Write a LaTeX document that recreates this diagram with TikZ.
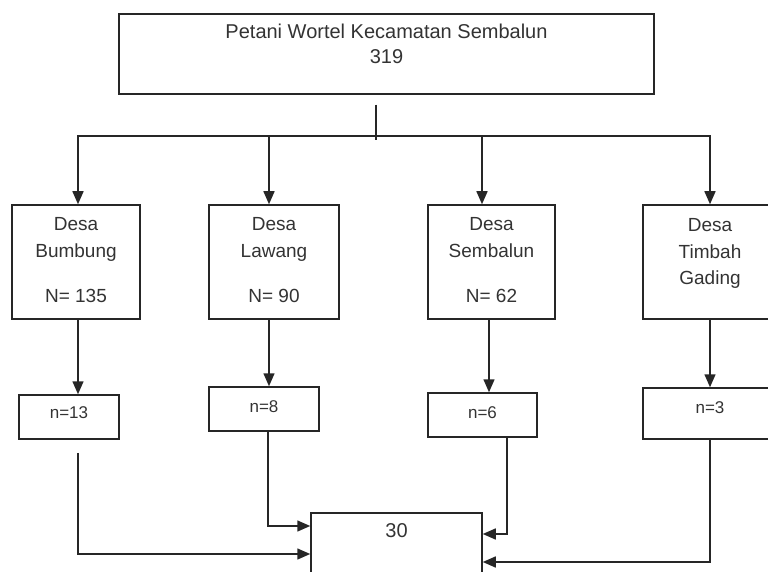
\documentclass[tikz,border=0pt]{standalone}
\usepackage{fontspec}
\setmainfont{Liberation Sans}
\usepackage{tikz}
\usetikzlibrary{arrows.meta}
\usepackage{xcolor}
\tikzstyle{dbox} = [%
  rectangle,
  draw=black!85,
  line width=1.5pt,
  fill=none,
  inner sep=0pt
]
\tikzstyle{dtext} = [%
  anchor=north,
  inner sep=0pt,
  align=center,
  text=black!80
]

\begin{document}
\begin{tikzpicture}[%
  x=1pt, y=-1pt,
  >={Triangle[length=13pt,width=11pt]},
  conn/.style={->, line width=1.5pt, black!85},
  every node/.style={font=\fontsize{19}{26.5}\selectfont}
]

  % Frame
  \useasboundingbox (0,0) rectangle (768,572);
  \clip (0,0) rectangle (768,572);

  % Nodes
  \node[dbox, minimum width=535pt, minimum height=80pt,
    label={[dtext,yshift=-11pt,font=\fontsize{20}{25}\selectfont]north:Petani Wortel Kecamatan Sembalun\\319}] (P) at (386.5,54) {};

  \node[dbox, minimum width=128pt, minimum height=114pt,
    label={[dtext,yshift=-13pt]north:Desa\\Bumbung\\[18.5pt]N= 135}] (D1) at (76,262) {};
  \node[dbox, minimum width=130pt, minimum height=114pt,
    label={[dtext,yshift=-13pt]north:Desa\\Lawang\\[18.5pt]N= 90}] (D2) at (274,262) {};
  \node[dbox, minimum width=127pt, minimum height=114pt,
    label={[dtext,yshift=-13pt]north:Desa\\Sembalun\\[18.5pt]N= 62}] (D3) at (491.5,262) {};
  \node[dbox, minimum width=134pt, minimum height=114pt,
    label={[dtext,yshift=-14pt]north:Desa\\Timbah\\Gading}] (D4) at (710,262) {};

  \node[dbox, minimum width=100pt, minimum height=44pt,
    label={[dtext,yshift=-12pt,font=\fontsize{17}{20}\selectfont]north:n=13}] (n1) at (69,417) {};
  \node[dbox, minimum width=110pt, minimum height=44pt,
    label={[dtext,yshift=-14pt,font=\fontsize{17}{20}\selectfont]north:n=8}] (n2) at (264,409) {};
  \node[dbox, minimum width=109pt, minimum height=44pt,
    label={[dtext,yshift=-14pt,font=\fontsize{17}{20}\selectfont]north:n=6}] (n3) at (482.5,415) {};
  \node[dbox, minimum width=134pt, minimum height=51pt,
    label={[dtext,yshift=-14pt,font=\fontsize{17}{20}\selectfont]north:n=3}] (n4) at (710,413.5) {};

  \node[dbox, minimum width=171pt, minimum height=90pt,
    label={[dtext,yshift=-11pt,font=\fontsize{20}{25}\selectfont]north:30}] (S) at (396.5,558) {};

  % Fork edges
  \coordinate (fork) at (376,136);
  \draw[conn, -, shorten <=10pt] (P.south -| fork) -- ([yshift=-4pt]fork);
  \draw[conn] (fork) -| ([xshift=2pt]D1.north);
  \draw[conn] (fork) -| ([xshift=-5pt]D2.north);
  \draw[conn] (fork) -| ([xshift=-9.5pt]D3.north);
  \draw[conn] (fork) -| (D4.north);

  % Sample edges
  \draw[conn] ([xshift=2pt]D1.south) -- ([xshift=2pt]D1.south |- n1.north);
  \draw[conn] ([xshift=-5pt]D2.south) -- ([xshift=-5pt]D2.south |- n2.north);
  \draw[conn] ([xshift=-2.5pt]D3.south) -- ([xshift=-2.5pt]D3.south |- n3.north);
  \draw[conn] (D4.south) -- (n4.north);

  % Total edges
  \draw[conn, shorten <=13pt] ([xshift=9pt]n1.south) |- ([yshift=4pt]S.west);
  \draw[conn] ([xshift=4pt]n2.south) |- ([yshift=32pt]S.west);
  \draw[conn] ([xshift=24.5pt]n3.south) |- ([yshift=24pt]S.east);
  \draw[conn] (n4.south) |- ([yshift=-4pt]S.east);

\end{tikzpicture}
\end{document}
